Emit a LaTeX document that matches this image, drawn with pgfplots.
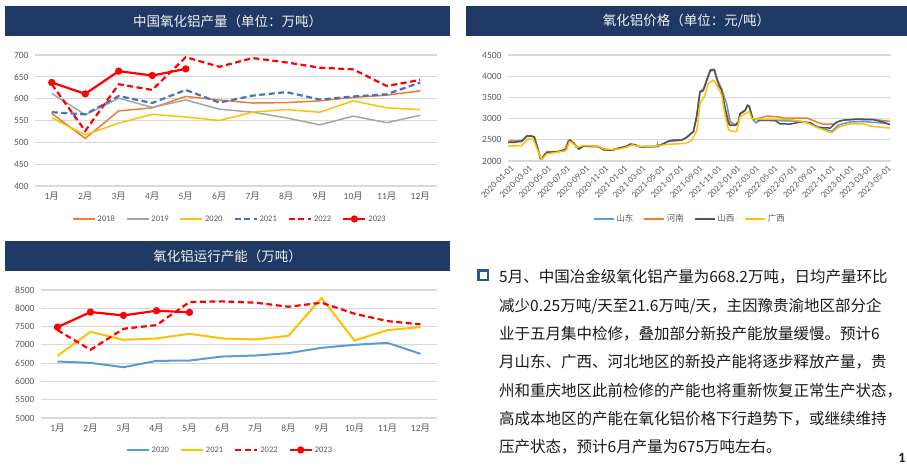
\documentclass[border=0pt]{standalone}
\usepackage{fontspec}
\setmainfont{Carlito}
\newfontfamily\cjk{Noto Sans CJK SC}
\usepackage{pgfplots}
\pgfplotsset{compat=1.18}

\definecolor{navy}{RGB}{31,56,100}
\definecolor{xorange}{RGB}{237,125,49}
\definecolor{xgray}{RGB}{165,165,165}
\definecolor{xyellow}{RGB}{255,192,0}
\definecolor{xblue}{RGB}{68,114,196}
\definecolor{xlblue}{RGB}{91,155,213}
\definecolor{xdark}{RGB}{68,84,106}
\definecolor{xred}{RGB}{255,0,0}
\definecolor{xgrid}{RGB}{217,217,217}
\definecolor{xtick}{RGB}{89,89,89}
\definecolor{bullet}{RGB}{47,85,151}

\pgfplotsset{
  base/.style={
    scale only axis,
    axis line style={draw=none},
    major tick length=0pt,
    ymajorgrids,
    grid style={xgrid, line width=1.2pt},
    tick label style={font=\fontsize{9.5}{10}\selectfont, text=xtick},
    yticklabel style={xshift=-3pt},
    /pgf/number format/assume math mode=true,
    /pgf/number format/1000 sep={},
    legend style={draw=none, fill=none, font=\fontsize{8.5}{9}\selectfont,
      text=xtick, inner sep=0pt,
      /tikz/every even column/.append style={column sep=9pt}},
    legend image code/.code={\draw[mark repeat=2, mark phase=2, #1]
      plot coordinates {(0pt,0pt) (11pt,0pt) (22pt,0pt)};},
  },
  months/.style={
    xtick={1,...,12},
    xticklabels={1{\cjk 月},2{\cjk 月},3{\cjk 月},4{\cjk 月},5{\cjk 月},6{\cjk 月},7{\cjk 月},8{\cjk 月},9{\cjk 月},10{\cjk 月},11{\cjk 月},12{\cjk 月}},
    xticklabel style={yshift=-2.5pt},
  },
  dsh/.style={dash pattern=on 6pt off 3.5pt},
}

\begin{document}
\begin{tikzpicture}
\useasboundingbox (0pt,0pt) rectangle (907pt,473pt);

% banners
\fill[navy] (5pt,437pt) rectangle (450pt,467pt);
\node[text=white!95!black, font=\cjk\fontsize{13.5}{14}\selectfont] at (227.5pt,452pt) {中国氧化铝产量（单位：万吨）};
\fill[navy] (466pt,437pt) rectangle (907pt,467pt);
\node[text=white!95!black, font=\cjk\fontsize{13.5}{14}\selectfont] at (686.5pt,452pt) {氧化铝价格（单位：元/吨）};
\fill[navy] (5pt,202pt) rectangle (450pt,232pt);
\node[text=white!95!black, font=\cjk\fontsize{13.5}{14}\selectfont] at (227.5pt,217pt) {氧化铝运行产能（万吨）};

% chart 1: production
\begin{axis}[base, months, at={(35pt,287pt)}, anchor=south west, width=402pt, height=131pt,
  xmin=0.5, xmax=12.5, ymin=400, ymax=700, ytick={400,450,...,700},
  legend columns=6,
  legend style={at={(0.485,-0.252)}, anchor=center}]
\addplot[xorange, line width=1.5pt] coordinates {(1,566) (2,509) (3,572) (4,579) (5,605) (6,597) (7,590) (8,591) (9,595) (10,603) (11,608) (12,618)};
\addlegendentry{2018}
\addplot[xgray, line width=1.5pt] coordinates {(1,612) (2,563) (3,601) (4,580) (5,597) (6,576) (7,569) (8,556) (9,540) (10,560) (11,545) (12,562)};
\addlegendentry{2019}
\addplot[xyellow, line width=1.5pt] coordinates {(1,556) (2,517) (3,544) (4,564) (5,558) (6,550) (7,569) (8,575) (9,569) (10,595) (11,579) (12,575)};
\addlegendentry{2020}
\addplot[xblue, line width=2.2pt, dsh] coordinates {(1,569) (2,564) (3,606) (4,590) (5,620) (6,591) (7,607) (8,615) (9,598) (10,605) (11,610) (12,637)};
\addlegendentry{2021}
\addplot[xred, line width=2.2pt, dsh] coordinates {(1,633) (2,526) (3,633) (4,620) (5,695) (6,673) (7,693) (8,683) (9,671) (10,667) (11,629) (12,643)};
\addlegendentry{2022}
\addplot[xred, line width=2.2pt, mark=*, mark size=2.5pt] coordinates {(1,637) (2,611) (3,663) (4,653) (5,668.2)};
\addlegendentry{2023}
\end{axis}

% chart 2: price
\begin{axis}[base, at={(508pt,312pt)}, anchor=south west, width=383pt, height=106pt,
  xmin=0, xmax=1235, ymin=2000, ymax=4500, ytick={2000,2500,...,4500},
  xtick={0,60,121,182,244,305,366,425,486,547,609,670,731,790,851,912,974,1035,1096,1155,1216},
  xticklabels={2020-01-01,2020-03-01,2020-05-01,2020-07-01,2020-09-01,2020-11-01,2021-01-01,2021-03-01,2021-05-01,2021-07-01,2021-09-01,2021-11-01,2022-01-01,2022-03-01,2022-05-01,2022-07-01,2022-09-01,2022-11-01,2023-01-01,2023-03-01,2023-05-01},
  xticklabel style={rotate=45, anchor=north east, font=\fontsize{9}{9}\selectfont, inner sep=1pt, yshift=-3pt},
  legend columns=4,
  legend image code/.code={\draw[#1] (0pt,0pt) -- (20pt,0pt);},
  legend style={at={(0.475,-0.547)}, anchor=center, font=\cjk\fontsize{8.5}{9}\selectfont,
    /tikz/every even column/.append style={column sep=8pt}}]
\addplot[xlblue, line width=1.5pt] coordinates {(0,2450) (44,2460) (60,2580) (75,2585) (85,2555) (93,2360) (105,2055) (109,2045) (125,2200) (162,2215) (184,2265) (195,2475) (200,2485) (211,2420) (229,2280) (243,2345) (291,2338) (307,2265) (334,2250) (361,2305) (383,2338) (394,2392) (410,2376) (426,2330) (474,2338) (480,2340) (482,2400) (484,2340) (496,2385) (517,2462) (560,2488) (577,2558) (598,2690) (609,3070) (619,3620) (630,3660) (641,3890) (652,4120) (665,4140) (673,3940) (689,3690) (705,3350) (716,2950) (725,2880) (735,2850) (743,2900) (748,3100) (765,3190) (772,3300) (778,3280) (789,2980) (800,2900) (813,2960) (877,2950) (940,2940) (975,2900) (1000,2800) (1044,2700) (1066,2850) (1103,2920) (1146,2930) (1200,2900) (1232,2870)};
\addlegendentry{山东}
\addplot[xorange, line width=1.5pt] coordinates {(0,2470) (44,2480) (60,2590) (75,2595) (85,2570) (93,2370) (105,2060) (109,2050) (125,2210) (162,2225) (184,2275) (195,2480) (200,2495) (211,2430) (229,2290) (243,2350) (291,2345) (307,2275) (334,2260) (361,2315) (383,2345) (394,2400) (410,2385) (426,2340) (474,2345) (496,2390) (517,2470) (560,2495) (577,2565) (598,2700) (609,3080) (619,3640) (630,3700) (641,3920) (652,4130) (665,4150) (673,3960) (689,3700) (700,3250) (716,2860) (732,2850) (743,2930) (748,3120) (765,3200) (772,3310) (778,3290) (789,3000) (797,2981) (835,3060) (877,3037) (888,3013) (964,3013) (996,2918) (1017,2870) (1050,2870) (1071,2950) (1125,2997) (1178,2981) (1232,2934)};
\addlegendentry{河南}
\addplot[xdark, line width=1.5pt] coordinates {(0,2436) (20,2440) (44,2467) (55,2540) (60,2586) (75,2590) (85,2560) (93,2364) (105,2060) (109,2048) (118,2150) (125,2206) (140,2210) (162,2222) (184,2270) (190,2300) (195,2470) (200,2490) (211,2428) (220,2330) (229,2285) (236,2330) (243,2349) (270,2345) (291,2341) (307,2270) (334,2254) (361,2309) (383,2341) (394,2396) (410,2380) (426,2333) (474,2341) (496,2388) (517,2467) (530,2490) (560,2491) (577,2562) (598,2697) (609,3076) (619,3630) (630,3670) (641,3907) (652,4144) (665,4160) (673,3946) (680,3780) (689,3670) (700,3234) (710,2900) (716,2839) (732,2839) (743,2918) (748,3116) (765,3195) (772,3314) (778,3290) (789,2997) (813,2958) (861,2958) (877,2878) (910,2870) (942,2918) (974,2902) (996,2799) (1039,2776) (1060,2918) (1082,2965) (1125,2981) (1178,2973) (1211,2918) (1232,2855)};
\addlegendentry{山西}
\addplot[xyellow, line width=1.5pt] coordinates {(0,2349) (44,2364) (60,2480) (65,2522) (82,2507) (93,2300) (109,2032) (125,2166) (184,2238) (190,2280) (198,2459) (205,2440) (222,2325) (243,2364) (291,2349) (307,2290) (334,2270) (361,2285) (383,2325) (400,2380) (426,2341) (474,2349) (517,2396) (571,2412) (592,2483) (609,2720) (619,3353) (635,3551) (646,3828) (662,3907) (673,3804) (689,3551) (700,3076) (711,2744) (721,2697) (737,2697) (748,3037) (765,3116) (778,3171) (786,2997) (813,2981) (910,2981) (964,2902) (1001,2776) (1044,2665) (1066,2799) (1103,2878) (1146,2878) (1168,2823) (1232,2776)};
\addlegendentry{广西}
\end{axis}

% chart 3: running capacity
\begin{axis}[base, months, at={(41pt,55pt)}, anchor=south west, width=396pt, height=128pt,
  xmin=0.5, xmax=12.5, ymin=5000, ymax=8500, ytick={5000,5500,...,8500},
  legend columns=4,
  legend style={at={(0.477,-0.25)}, anchor=center}]
\addplot[xlblue, line width=2pt] coordinates {(1,6544) (2,6507) (3,6389) (4,6562) (5,6571) (6,6681) (7,6709) (8,6773) (9,6919) (10,7001) (11,7056) (12,6754)};
\addlegendentry{2020}
\addplot[xyellow, line width=2pt] coordinates {(1,6699) (2,7357) (3,7138) (4,7175) (5,7303) (6,7175) (7,7147) (8,7248) (9,8281) (10,7120) (11,7403) (12,7485)};
\addlegendentry{2021}
\addplot[xred, line width=2.2pt, dsh] coordinates {(1,7403) (2,6864) (3,7440) (4,7540) (5,8171) (6,8189) (7,8153) (8,8043) (9,8153) (10,7851) (11,7650) (12,7559)};
\addlegendentry{2022}
\addplot[xred, line width=2.2pt, mark=*, mark size=2.5pt] coordinates {(1,7485) (2,7897) (3,7805) (4,7933) (5,7888)};
\addlegendentry{2023}
\end{axis}

% text block
\draw[bullet, line width=2.2pt] (478.5pt,193pt) rectangle (488pt,202.5pt);
\begin{scope}[every node/.style={anchor=base west, inner sep=0pt, text=black!90, font=\cjk\fontsize{15.5}{16}\selectfont}]
\node at (499pt,190pt) {5月、中国冶金级氧化铝产量为668.2万吨，日均产量环比};
\node at (499pt,161.7pt) {减少0.25万吨/天至21.6万吨/天，主因豫贵渝地区部分企};
\node at (499pt,133.4pt) {业于五月集中检修，叠加部分新投产能放量缓慢。预计6};
\node at (499pt,105.1pt) {月山东、广西、河北地区的新投产能将逐步释放产量，贵};
\node at (499pt,76.8pt) {州和重庆地区此前检修的产能也将重新恢复正常生产状态，};
\node at (499pt,48.5pt) {高成本地区的产能在氧化铝价格下行趋势下，或继续维持};
\node at (499pt,20.2pt) {压产状态，预计6月产量为675万吨左右。};
\end{scope}
\node[font=\bfseries\fontsize{14}{14}\selectfont, text=black!90] at (902pt,15pt) {1};
\end{tikzpicture}
\end{document}
